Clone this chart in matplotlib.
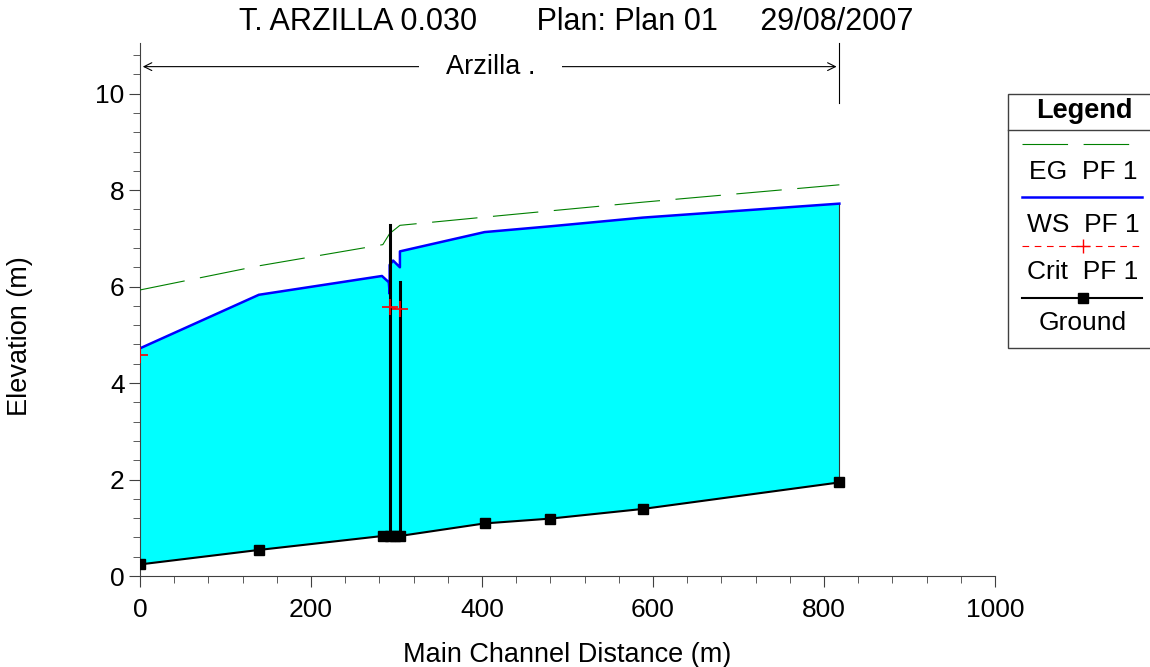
import matplotlib
matplotlib.use("Agg")
import matplotlib.pyplot as plt
import numpy as np
from matplotlib.lines import Line2D
from matplotlib.patches import Rectangle
from matplotlib.ticker import MultipleLocator

plt.rcParams['font.family'] = ['Liberation Sans', 'DejaVu Sans']

# profile data (main channel distance in m, elevations in m)
ground_x = [0, 139, 284, 292, 298, 304, 403, 480, 588, 818]
ground_y = [0.24, 0.54, 0.83, 0.83, 0.83, 0.83, 1.09, 1.19, 1.39, 1.94]

ws_x = [0, 139, 283, 291, 292, 292, 296, 304, 304, 403, 480, 588, 818]
ws_y = [4.72, 5.83, 6.22, 6.09, 5.85, 6.45, 6.54, 6.40, 6.73, 7.13, 7.25, 7.43, 7.72]

eg_x = [0, 139, 284, 292, 304, 403, 480, 588, 818]
eg_y = [5.93, 6.43, 6.87, 7.10, 7.27, 7.44, 7.57, 7.75, 8.11]

crit_x = [0, np.nan, 292, 304]
crit_y = [4.58, np.nan, 5.57, 5.53]

# bridge deck / pier lines
bridge_x = [292, 304]
bridge_top = [7.28, 6.09]

reach_name = "Arzilla ."
reach_start, reach_end = 0, 818

title = "T. ARZILLA 0.030       Plan: Plan 01     29/08/2007"
legend_labels = ["EG  PF 1", "WS  PF 1", "Crit  PF 1", "Ground"]

W, H = 1150, 667
fig = plt.figure(figsize=(W / 100, H / 100), dpi=100)
ax = fig.add_axes([140 / W, 1 - 576 / H, 855 / W, 533 / H])


def fx(px):
    return px / W


def fy(py):
    return 1 - py / H


# water fill between water surface and ground
poly_x = list(ws_x) + ground_x[::-1]
poly_y = list(ws_y) + ground_y[::-1]
ax.fill(poly_x, poly_y, color='#00ffff', lw=0, zorder=1)
ax.plot([ground_x[-1], ws_x[-1]], [ground_y[-1], ws_y[-1]], color='#333333', lw=0.8, zorder=2)

ax.plot(eg_x, eg_y, color='#008000', lw=0.8, dashes=(41, 14), zorder=3)
ax.plot(ws_x, ws_y, color='#0000ff', lw=1.8, zorder=4)

for bx, bt in zip(bridge_x, bridge_top):
    gy = np.interp(bx, ground_x, ground_y)
    ax.plot([bx, bx], [gy, bt], color='black', lw=2.2, zorder=5)

ax.plot(ground_x, ground_y, color='black', lw=1.5, marker='s', ms=7, zorder=6)
ax.plot(crit_x, crit_y, color='red', lw=0.8, ls=(0, (6, 5)), zorder=7)
ax.plot(crit_x, crit_y, color='red', lw=0, marker='+', ms=11, mew=1.2, zorder=7)

ax.set_xlim(0, 1000)
ax.set_ylim(0, 11.05)
ax.xaxis.set_major_locator(MultipleLocator(200))
ax.xaxis.set_minor_locator(MultipleLocator(40))
ax.yaxis.set_major_locator(MultipleLocator(2))
ax.yaxis.set_minor_locator(MultipleLocator(0.4))
for s in ['top', 'right']:
    ax.spines[s].set_visible(False)
for s in ['left', 'bottom']:
    ax.spines[s].set_color('#404040')
ax.tick_params(which='major', length=8, color='#404040', labelsize=19, pad=3)
ax.tick_params(which='minor', length=5, color='#404040')
ax.tick_params(axis='x', which='major', pad=8)

ax.set_xlabel("Main Channel Distance (m)", fontsize=19.5)
ax.set_ylabel("Elevation (m)", fontsize=19.5)
ax.xaxis.set_label_coords(0.5, -(655 - 576) / 533, transform=ax.transAxes)
ax.yaxis.set_label_coords(-(140 - 20) / 855, (576 - 336) / 533, transform=ax.transAxes)
ax.xaxis.label.set_va('center')
ax.yaxis.label.set_va('center')

# reach annotation
ax.plot([reach_end, reach_end], [9.8, 11.05], color='black', lw=0.8, clip_on=False)
ax.annotate("", xy=(reach_start, 10.56), xytext=(reach_end, 10.56),
            arrowprops=dict(arrowstyle='<->', color='black', lw=0.8, mutation_scale=14))
ax.text(410, 10.56, reach_name, ha='center', va='center', fontsize=19.5,
        bbox=dict(facecolor='white', edgecolor='none', boxstyle='square,pad=1.0'))

fig.text(fx(576), fy(22), title, ha='center', va='center', fontsize=22)

# legend box
fig.add_artist(Rectangle((fx(1008), fy(348)), fx(200), fy(94) - fy(348),
                         transform=fig.transFigure, facecolor='white', edgecolor='#404040', lw=1))
fig.add_artist(Line2D([fx(1008), fx(1150)], [fy(130), fy(130)], color='#404040', lw=1,
                      transform=fig.transFigure))
fig.text(fx(1084), fy(111), "Legend", ha='center', va='center', fontsize=19.5, fontweight='bold')

fig.add_artist(Line2D([fx(1022), fx(1132)], [fy(144), fy(144)], color='#008000', lw=0.8,
                      dashes=(41, 14), transform=fig.transFigure))
fig.add_artist(Line2D([fx(1022), fx(1142)], [fy(197), fy(197)], color='#0000ff', lw=1.8,
                      transform=fig.transFigure))
fig.add_artist(Line2D([fx(1022), fx(1142)], [fy(246), fy(246)], color='red', lw=0.8,
                      ls=(0, (6, 5)), transform=fig.transFigure))
fig.add_artist(Line2D([fx(1083)], [fy(246)], color='red', lw=0, marker='+', ms=10, mew=1,
                      transform=fig.transFigure))
fig.add_artist(Line2D([fx(1022), fx(1142)], [fy(298), fy(298)], color='black', lw=1.5,
                      transform=fig.transFigure))
fig.add_artist(Line2D([fx(1083)], [fy(298)], color='black', lw=0, marker='s', ms=7,
                      transform=fig.transFigure))
for lab, py in zip(legend_labels, [172, 225, 272, 323]):
    fig.text(fx(1083), fy(py), lab, ha='center', va='center', fontsize=19)

fig.savefig("out.png", dpi=100)
